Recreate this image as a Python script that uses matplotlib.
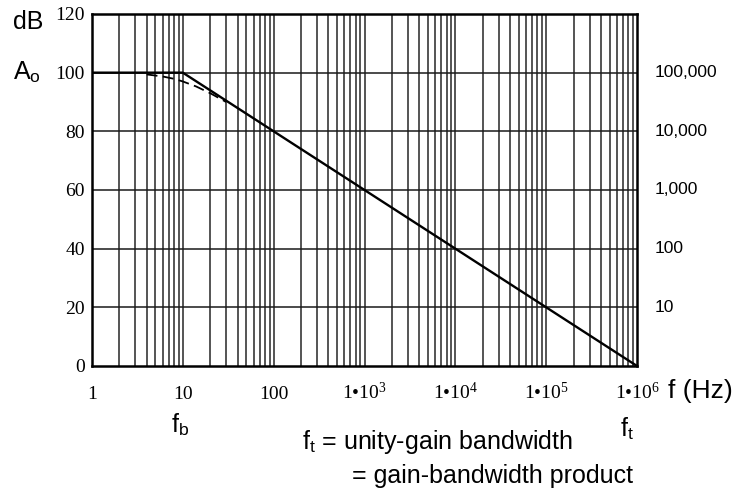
import numpy as np
import matplotlib
matplotlib.use("Agg")
import matplotlib.pyplot as plt

plt.rcParams["mathtext.fontset"] = "custom"
plt.rcParams["mathtext.rm"] = "Liberation Serif"
plt.rcParams["mathtext.it"] = "Liberation Serif"
plt.rcParams["mathtext.sf"] = "Liberation Sans"

# asymptotic (Bode) gain
asym_freq = [1, 10, 1e6]
asym_db = [100, 100, 0]

# actual roll-off near the break frequency (dashed)
real_freq = [4, 6, 8, 10, 14, 20, 30]
real_db = [99.4, 98.7, 97.9, 97.0, 95.3, 93.0, 90.0]

db_ticks = [0, 20, 40, 60, 80, 100, 120]
x_ticks = [1, 10, 100, 1e3, 1e4, 1e5, 1e6]
x_labels = ["1", "10", "100", "1\u2022$10^{3}$", "1\u2022$10^{4}$",
            "1\u2022$10^{5}$", "1\u2022$10^{6}$"]
ratio_db = [100, 80, 60, 40, 20]
ratio_labels = ["100,000", "10,000", "1,000", "100", "10"]

fig = plt.figure(figsize=(7.49, 4.91), dpi=100)
ax = fig.add_axes([0.1228, 0.2546, 0.7277, 0.7169])

ax.set_xscale("log")
ax.set_xlim(1, 1e6)
ax.set_ylim(0, 120)

# grid: every integer multiple per decade
for dec in range(6):
    for m in range(1, 10):
        f = m * 10 ** dec
        if f > 1:
            ax.axvline(f, color="0.15", lw=1.1, zorder=1)
for y in ratio_db:
    ax.axhline(y, color="0.1", lw=1.1, zorder=1)

ax.plot(asym_freq, asym_db, color="black", lw=1.7, zorder=3)
ax.plot(real_freq, real_db, color="black", lw=1.3, ls=(0, (6, 3)), zorder=3)

for s in ax.spines.values():
    s.set_linewidth(1.8)
    s.set_zorder(4)

ax.set_yticks(db_ticks)
ax.set_yticklabels([str(v) for v in db_ticks], family="Liberation Serif", fontsize=14)
ax.set_xticks(x_ticks)
ax.set_xticklabels(x_labels, family="Liberation Serif", fontsize=14)
ax.xaxis.set_minor_locator(matplotlib.ticker.NullLocator())
ax.tick_params(axis="y", length=0, pad=5)
ax.tick_params(axis="x", length=0, pad=24)
for lab in ax.get_xticklabels():
    lab.set_verticalalignment("baseline")

for y, lab in zip(ratio_db, ratio_labels):
    ax.text(1.033, y, lab, transform=ax.get_yaxis_transform(),
            family="Liberation Sans", fontsize=12.5, va="center", ha="left")

sans = dict(family="Liberation Sans", fontsize=18)
fig.text(13 / 749, 1 - 22 / 491, "dB", va="center", ha="left", **sans)
fig.text(13 / 749, 1 - 72 / 491, "A$_\\mathsf{o}$", va="center", ha="left", **sans)
fig.text(668 / 749, 1 - 391 / 491, "f (Hz)", va="center", ha="left",
         family="Liberation Sans", fontsize=19)
fig.text(171 / 749, 1 - 411 / 491, "f$_\\mathsf{b}$", va="top", ha="left", **sans)
fig.text(620 / 749, 1 - 415 / 491, "f$_\\mathsf{t}$", va="top", ha="left", **sans)
fig.text(302 / 749, 1 - 442 / 491, "f$_\\mathsf{t}$ = unity-gain bandwidth",
         va="center", ha="left", **sans)
fig.text(352 / 749, 1 - 476 / 491, "= gain-bandwidth product",
         va="center", ha="left", **sans)

fig.savefig("out.png", dpi=100)
